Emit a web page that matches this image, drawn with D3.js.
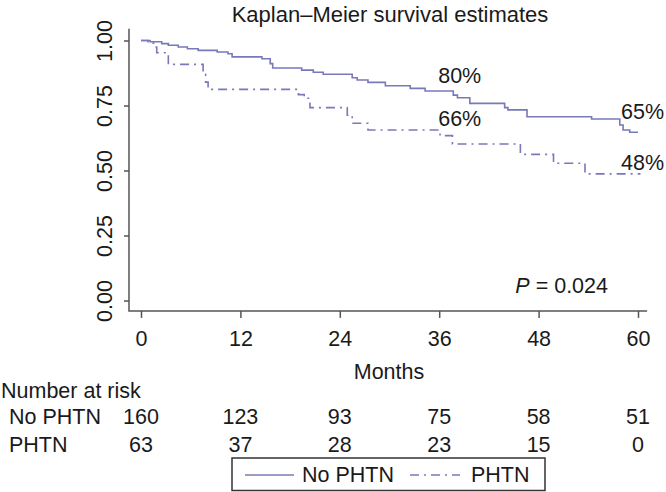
<!DOCTYPE html>
<html>
<head>
<meta charset="utf-8">
<script src="https://cdn.jsdelivr.net/npm/d3@7"></script>
<style>
  html, body { margin: 0; padding: 0; background: #fff; }
  svg { display: block; }
  text { font-family: "Liberation Sans", Arial, Helvetica, sans-serif; fill: #1a1a1a; }
</style>
</head>
<body>
<svg id="chart" width="666" height="492"></svg>
<script>
// ---- data ----
const groups = ["No PHTN", "PHTN"];
// step points: [month, survival]
const noPhtnSteps = [
  [0, 1.0], [1.1, 0.995], [2.5, 0.988], [3.3, 0.982], [4.5, 0.975], [5.6, 0.968],
  [6.9, 0.962], [9.2, 0.956], [10.5, 0.949], [11.0, 0.937], [14.6, 0.930],
  [15.6, 0.911], [15.9, 0.894], [19.4, 0.886], [20.8, 0.878], [22.0, 0.870],
  [25.5, 0.857], [26.1, 0.848], [27.4, 0.839], [29.5, 0.826], [32.5, 0.816],
  [34.3, 0.806], [37.7, 0.790], [38.2, 0.780], [39.7, 0.758], [43.9, 0.742],
  [44.3, 0.733], [46.6, 0.707], [54.4, 0.698], [57.8, 0.675], [58.2, 0.656],
  [59.0, 0.647], [60.0, 0.647]
];
const phtnSteps = [
  [0, 1.0], [0.85, 0.99], [1.7, 0.975], [1.9, 0.953], [3.3, 0.908], [7.5, 0.87],
  [7.8, 0.84], [8.1, 0.812], [19.0, 0.792], [19.7, 0.778], [20.4, 0.742],
  [24.9, 0.713], [25.5, 0.682], [27.4, 0.656], [36.1, 0.634], [37.6, 0.602],
  [45.8, 0.562], [49.8, 0.528], [53.6, 0.487], [60.3, 0.487]
];
const xTicks = [0, 12, 24, 36, 48, 60];
const yTicks = [0, 0.25, 0.5, 0.75, 1.0];
const riskNoPhtn = [160, 123, 93, 75, 58, 51];
const riskPhtn = [63, 37, 28, 23, 15, 0];
const annotations = [
  { t: 36, s: 0.80, label: "80%" },
  { t: 36, s: 0.66, label: "66%" },
  { t: 60, s: 0.65, label: "65%" },
  { t: 60, s: 0.48, label: "48%" }
];
const title = "Kaplan\u2013Meier survival estimates";
const pValue = "0.024";

// ---- layout ----
const svg = d3.select("#chart");
const x = d3.scaleLinear().domain([0, 60]).range([141, 638]);
const y = d3.scaleLinear().domain([0, 1]).range([300.5, 40.5]);
const lineColor = "#7878ba";
const axisColor = "#555";
const fs = 21.5;

// title
svg.append("text").attr("x", 390).attr("y", 22).attr("text-anchor", "middle")
  .attr("font-size", 22).text(title);

// L-shaped frame
const x0 = x(-1.45), x1 = x(61.1), yTop = y(1.045), yBot = y(-0.04);
svg.append("path")
  .attr("d", `M${x0},${yTop}V${yBot}H${x1}`)
  .attr("fill", "none").attr("stroke", axisColor).attr("stroke-width", 1.5);

// y axis
const gy = svg.append("g").attr("transform", `translate(${x0},0)`)
  .call(d3.axisLeft(y).tickValues(yTicks).tickSize(5).tickFormat(d3.format(".2f")));
gy.select(".domain").remove();
gy.selectAll(".tick line").attr("stroke", axisColor).attr("stroke-width", 1.5);
gy.selectAll(".tick text")
  .attr("transform", "rotate(-90)").attr("x", 0).attr("y", -17).attr("dy", 0)
  .attr("text-anchor", "middle").attr("font-size", fs)
  .attr("font-family", "Liberation Sans, Arial, sans-serif").attr("fill", "#1a1a1a");

// x axis
const gx = svg.append("g").attr("transform", `translate(0,${yBot})`)
  .call(d3.axisBottom(x).tickValues(xTicks).tickSize(7).tickFormat(d3.format("d")));
gx.select(".domain").remove();
gx.selectAll(".tick line").attr("stroke", axisColor).attr("stroke-width", 1.5);
gx.selectAll(".tick text").attr("y", 35).attr("dy", 0).attr("font-size", fs)
  .attr("font-family", "Liberation Sans, Arial, sans-serif").attr("fill", "#1a1a1a");

svg.append("text").attr("x", 389).attr("y", 379).attr("text-anchor", "middle")
  .attr("font-size", fs).text("Months");

// curves
const line = d3.line().x(d => x(d[0])).y(d => y(d[1])).curve(d3.curveStepAfter);
svg.append("path").datum(noPhtnSteps).attr("d", line)
  .attr("fill", "none").attr("stroke", lineColor).attr("stroke-width", 1.6);
svg.append("path").datum(phtnSteps).attr("d", line)
  .attr("fill", "none").attr("stroke", lineColor).attr("stroke-width", 1.6)
  .attr("stroke-dasharray", "9,5,2,5");

// annotations
const annY = { "80%": 83, "66%": 126, "65%": 119, "48%": 170 };
svg.selectAll(".ann").data(annotations).enter().append("text")
  .attr("class", "ann")
  .attr("x", d => x(d.t) + (d.t === 60 ? -17 : -1))
  .attr("y", d => annY[d.label])
  .attr("font-size", fs).text(d => d.label);

// p value
const pt = svg.append("text").attr("x", 608).attr("y", 293).attr("text-anchor", "end")
  .attr("font-size", fs);
pt.append("tspan").attr("font-style", "italic").text("P");
pt.append("tspan").text(" = " + pValue);

// number at risk
svg.append("text").attr("x", 1).attr("y", 398).attr("font-size", fs).text("Number at risk");
const rows = [
  { name: groups[0], vals: riskNoPhtn, yb: 424 },
  { name: groups[1], vals: riskPhtn, yb: 452 }
];
rows.forEach(r => {
  svg.append("text").attr("x", 9).attr("y", r.yb).attr("font-size", fs).text(r.name);
  svg.selectAll(null).data(r.vals).enter().append("text")
    .attr("x", (d, i) => x(xTicks[i])).attr("y", r.yb)
    .attr("text-anchor", "middle").attr("font-size", fs).text(d => d);
});

// legend
const lg = svg.append("g");
lg.append("rect").attr("x", 232).attr("y", 458).attr("width", 313).attr("height", 32.5)
  .attr("fill", "#fff").attr("stroke", "#333").attr("stroke-width", 1.5);
lg.append("line").attr("x1", 245).attr("x2", 294).attr("y1", 475).attr("y2", 475)
  .attr("stroke", lineColor).attr("stroke-width", 1.6);
lg.append("text").attr("x", 302).attr("y", 482).attr("font-size", fs).text(groups[0]);
lg.append("line").attr("x1", 410).attr("x2", 460).attr("y1", 475).attr("y2", 475)
  .attr("stroke", lineColor).attr("stroke-width", 1.6).attr("stroke-dasharray", "9,5,2,5");
lg.append("text").attr("x", 471).attr("y", 482).attr("font-size", fs).text(groups[1]);
</script>
</body>
</html>
